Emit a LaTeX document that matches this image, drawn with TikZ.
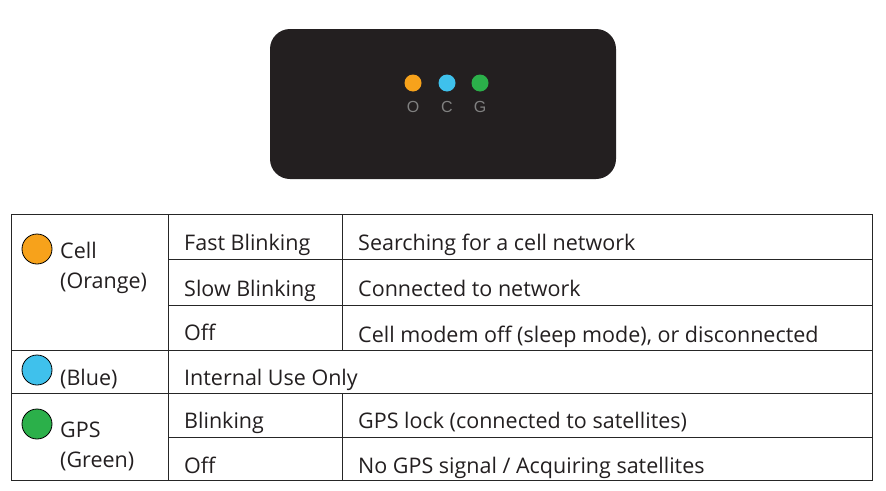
\documentclass[tikz,border=0pt]{standalone}
\usepackage{fontspec}
\setmainfont{Open Sans}
\newfontfamily\arialf{Liberation Sans}
\definecolor{dev}{HTML}{231F20}
\definecolor{ora}{HTML}{F7A21B}
\definecolor{blu}{HTML}{3FC1EC}
\definecolor{gre}{HTML}{2BB04A}
\definecolor{txt}{HTML}{231F20}
\begin{document}
\begin{tikzpicture}[x=1pt,y=-1pt,
  lbl/.style={anchor=base west,inner sep=0pt,font=\fontsize{21.5}{24}\selectfont,text=txt},
  led/.style={circle,fill=#1,minimum size=17pt,inner sep=0pt},
  tled/.style={circle,draw=black,line width=0.8pt,fill=#1,minimum size=30pt,inner sep=0pt},
  grid/.style={line width=0.9pt,draw=black!85}]
\useasboundingbox (0,0) rectangle (886,490);
\fill[dev,rounded corners=20pt] (270,29) rectangle (616,179);
\node[led=ora] (lo) at (413,83) {};
\node[led=blu] (lc) at (447,83) {};
\node[led=gre] (lg) at (480,83) {};
\foreach \n/\t/\x in {o/O/413,c/C/447,g/G/480}
  \node[text=black!50,font=\arialf\fontsize{16}{16}\selectfont,inner sep=0pt] (t\n) at (\x,107) {\t};
% table
\draw[grid] (11,214) rectangle (872,480);
\draw[grid] (168,214) -- (168,480);
\draw[grid] (342,214) -- (342,350);
\draw[grid] (342,393) -- (342,480);
\draw[grid] (168,259) -- (872,259);
\draw[grid] (168,305) -- (872,305);
\draw[grid] (11,350) -- (872,350);
\draw[grid] (11,393) -- (872,393);
\draw[grid] (168,437) -- (872,437);
\node[tled=ora] (co) at (37,249) {};
\node[tled=blu] (cb) at (37,370) {};
\node[tled=gre] (cg) at (37,424) {};
\node[lbl] (a1) at (60,258) {Cell};
\node[lbl] (a2) at (60,288) {(Orange)};
\node[lbl] (a3) at (60,385) {(Blue)};
\node[lbl] (a4) at (60,437) {GPS};
\node[lbl] (a5) at (60,467) {(Green)};
\node[lbl] (b1) at (184,250) {Fast Blinking};
\node[lbl] (b2) at (184,296) {Slow Blinking};
\node[lbl] (b3) at (184,340) {Off};
\node[lbl] (b4) at (184,385) {Internal Use Only};
\node[lbl] (b5) at (184,428) {Blinking};
\node[lbl] (b6) at (184,473) {Off};
\node[lbl] (c1) at (358,250) {Searching for a cell network};
\node[lbl] (c2) at (358,296) {Connected to network};
\node[lbl] (c3) at (358,342) {Cell modem off (sleep mode), or disconnected};
\node[lbl] (c5) at (358,428) {GPS lock (connected to satellites)};
\node[lbl] (c6) at (358,473) {No GPS signal / Acquiring satellites};
\end{tikzpicture}
\end{document}
